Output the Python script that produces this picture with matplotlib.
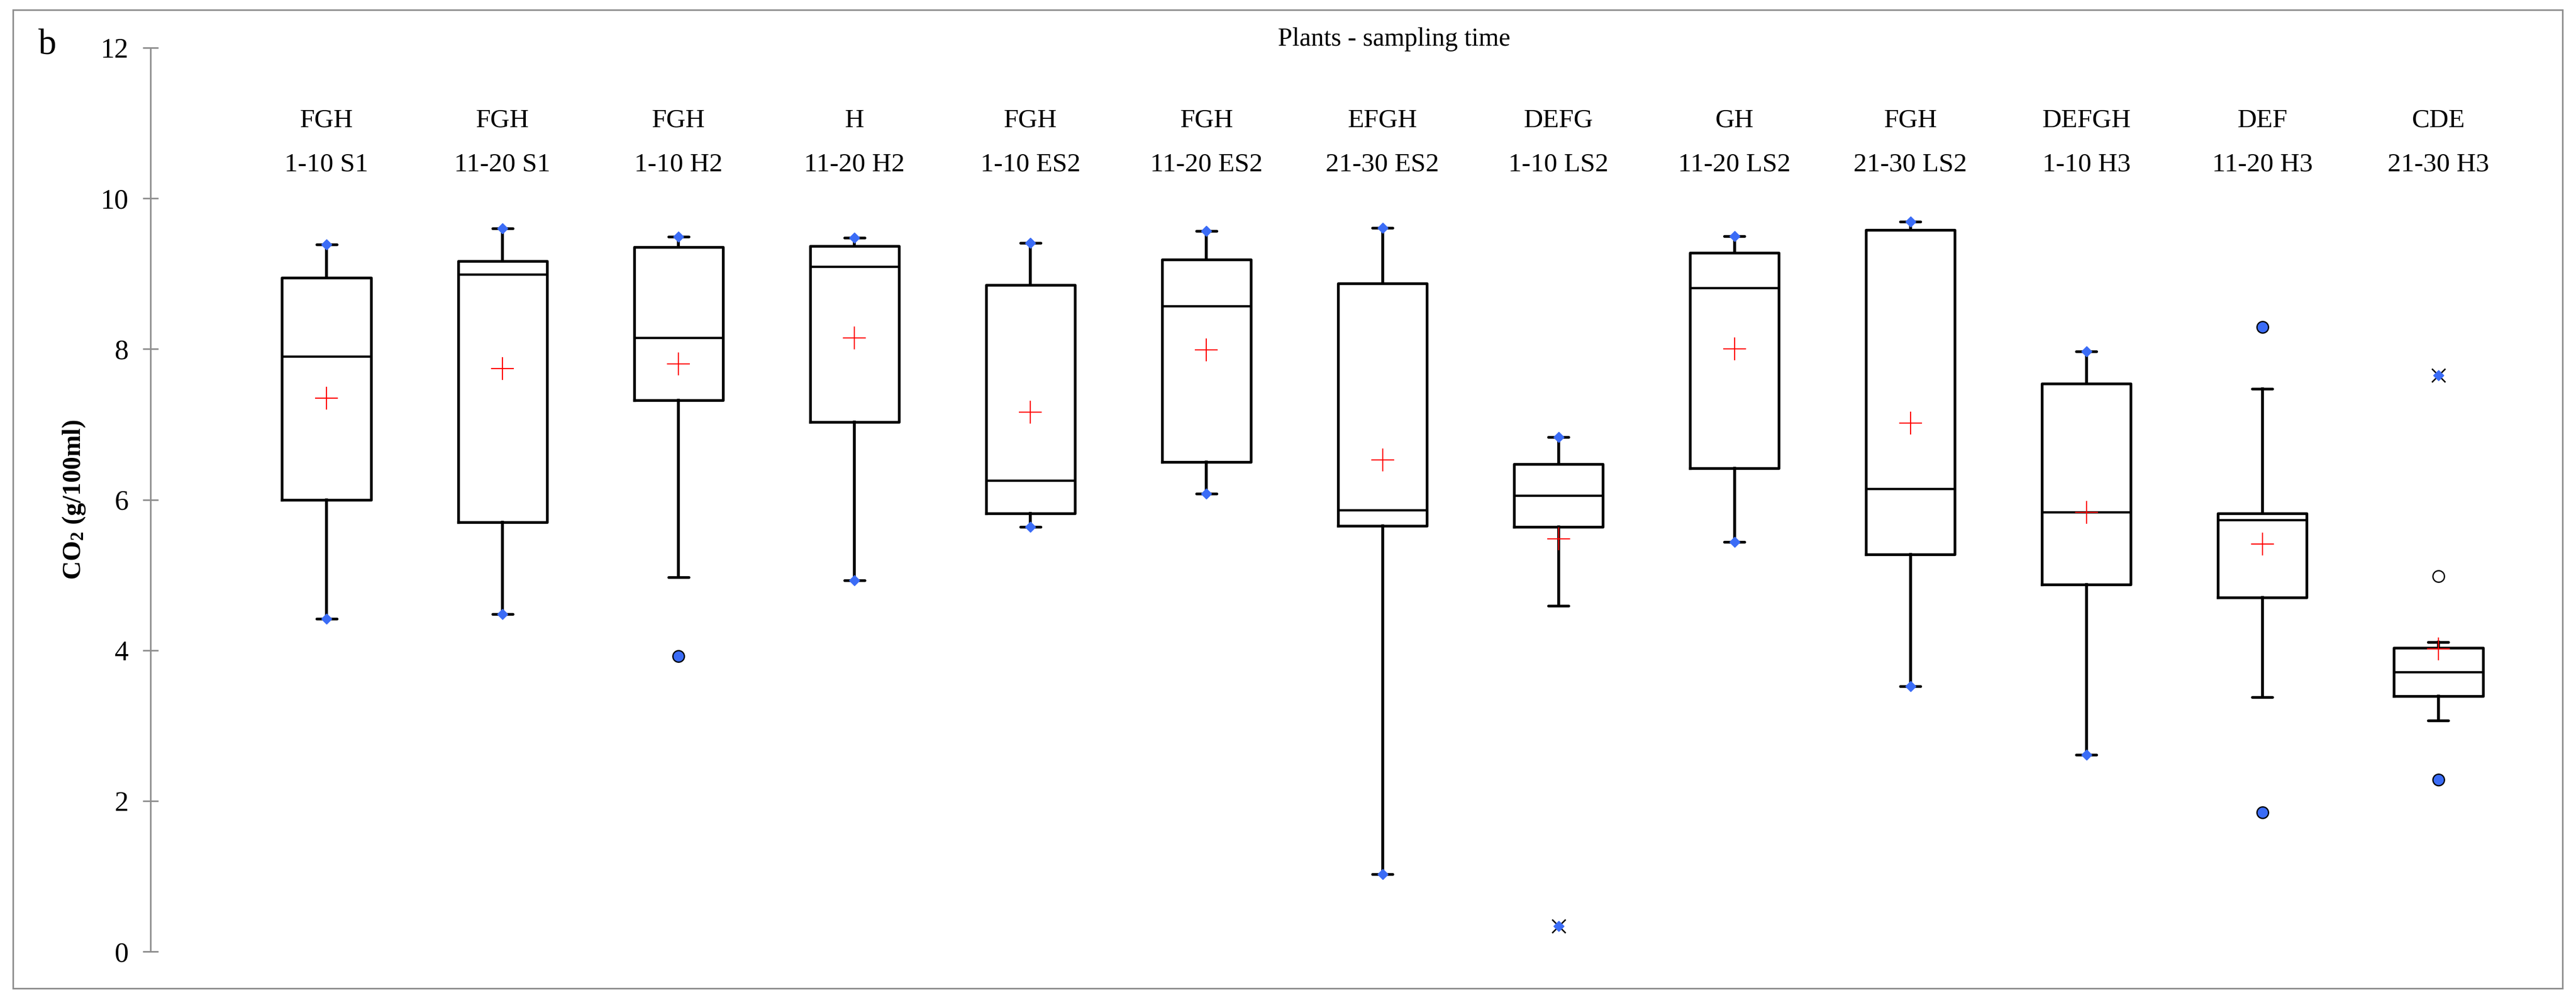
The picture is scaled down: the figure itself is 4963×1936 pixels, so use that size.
import numpy as np
import matplotlib
matplotlib.use("Agg")
import matplotlib.pyplot as plt
from matplotlib.patches import Rectangle

plt.rcParams['font.family'] = ['Liberation Serif', 'DejaVu Serif']
plt.rcParams['mathtext.fontset'] = 'custom'
plt.rcParams['mathtext.rm'] = 'Liberation Serif'
plt.rcParams['mathtext.bf'] = 'Liberation Serif:bold'

# sample groups and significance letters
samples = ["1-10 S1", "11-20 S1", "1-10 H2", "11-20 H2", "1-10 ES2", "11-20 ES2",
           "21-30 ES2", "1-10 LS2", "11-20 LS2", "21-30 LS2", "1-10 H3", "11-20 H3",
           "21-30 H3"]
letters = ["FGH", "FGH", "FGH", "H", "FGH", "FGH", "EFGH", "DEFG", "GH", "FGH",
           "DEFGH", "DEF", "CDE"]

# box statistics (g/100ml)
whis_lo = [4.42, 4.48, 4.97, 4.93, 5.64, 6.08, 1.03, 4.59, 5.44, 3.52, 2.61, 3.38, 3.07]
q1 = [6.00, 5.70, 7.32, 7.03, 5.82, 6.50, 5.65, 5.64, 6.42, 5.27, 4.87, 4.70, 3.39]
med = [7.90, 8.99, 8.15, 9.09, 6.25, 8.57, 5.86, 6.05, 8.81, 6.14, 5.83, 5.73, 3.71]
q3 = [8.95, 9.17, 9.35, 9.37, 8.85, 9.19, 8.87, 6.47, 9.28, 9.58, 7.54, 5.82, 4.03]
whis_hi = [9.39, 9.60, 9.49, 9.48, 9.41, 9.565, 9.61, 6.83, 9.50, 9.69, 7.97, 7.47, 4.11]
means = [7.35, 7.74, 7.80, 8.15, 7.16, 7.99, 6.53, 5.48, 8.00, 7.02, 5.83, 5.41, 4.02]
mins = [4.42, 4.48, 3.92, 4.93, 5.64, 6.08, 1.03, 0.34, 5.44, 3.52, 2.61, 1.85, 2.28]
maxs = [9.39, 9.60, 9.49, 9.48, 9.41, 9.565, 9.61, 6.83, 9.50, 9.69, 7.97, 8.29, 7.65]
outliers = [[], [], [3.92], [], [], [], [], [], [], [], [], [8.29, 1.85], [2.28, 4.98]]
extremes = [[], [], [], [], [], [], [], [0.34], [], [], [], [], [7.65]]

blue = '#3b6cf6'
grey = '#8f8f8f'

W, H = 4963, 1936
fig = plt.figure(figsize=(W / 100, H / 100), dpi=100)
ax = fig.add_axes([290 / W, 1 - 1833 / H, (4937 - 290) / W, (1833 - 92) / H])

pos = np.arange(1, len(samples) + 1)
stats = []
for i in range(len(samples)):
    stats.append(dict(whislo=whis_lo[i], q1=q1[i], med=med[i], q3=q3[i],
                      whishi=whis_hi[i], mean=means[i], fliers=[]))

ax.bxp(stats, positions=pos, widths=0.505, capwidths=0.115, showmeans=True,
       showfliers=False,
       boxprops=dict(color='black', linewidth=3.8, solid_joinstyle='round'),
       medianprops=dict(color='black', linewidth=3.2),
       whiskerprops=dict(color='black', linewidth=4.0),
       capprops=dict(color='black', linewidth=3.8, solid_capstyle='round'),
       meanprops=dict(marker='+', markeredgecolor='red', markersize=32,
                      markeredgewidth=1.6))

for i, x in enumerate(pos):
    for v in (mins[i], maxs[i]):
        if v in extremes[i] or v in outliers[i]:
            continue
        ax.plot(x, v, marker='D', color=blue, markersize=10, markeredgewidth=1,
                zorder=5, clip_on=False)
    for v in outliers[i]:
        face = blue if v in (mins[i], maxs[i]) else 'white'
        ax.plot(x, v, marker='o', markerfacecolor=face, markeredgecolor='black',
                markeredgewidth=1.8, markersize=16, zorder=5, clip_on=False)
    for v in extremes[i]:
        ax.plot(x, v, marker='x', color='black', markersize=19, markeredgewidth=2,
                zorder=5, clip_on=False)
        ax.plot(x, v, marker='D', color=blue, markersize=10, zorder=6, clip_on=False)
    ax.text(x, 11.03, letters[i], ha='center', va='center', fontsize=37)
    ax.text(x, 10.45, samples[i], ha='center', va='center', fontsize=37)

ax.set_xlim(0, 13.705)
ax.set_ylim(0, 12)
ax.set_yticks(np.arange(0, 13, 2))
ax.set_xticks([])
for side in ('top', 'right', 'bottom'):
    ax.spines[side].set_visible(False)
ax.spines['left'].set_color(grey)
ax.spines['left'].set_linewidth(2.2)
ax.tick_params(axis='y', direction='inout', length=21, width=2.2, color=grey,
               labelsize=39, pad=20)

fig.text(2686 / W, 1 - 76 / H, "Plants - sampling time", ha='center', va='center',
         fontsize=36)
fig.text(91 / W, 1 - 87 / H, "b", ha='center', va='center', fontsize=50)
fig.text(143 / W, 1 - 962 / H, r"$\mathbf{CO_2}$ (g/100ml)", rotation=90,
         ha='center', va='center', fontsize=36, fontweight='bold')

fig.patches.append(Rectangle((25 / W, 1 - 1904 / H), (4937 - 25) / W, (1904 - 19) / H,
                             transform=fig.transFigure, fill=False,
                             edgecolor=grey, linewidth=2.2))

fig.savefig("out.png", dpi=100)
